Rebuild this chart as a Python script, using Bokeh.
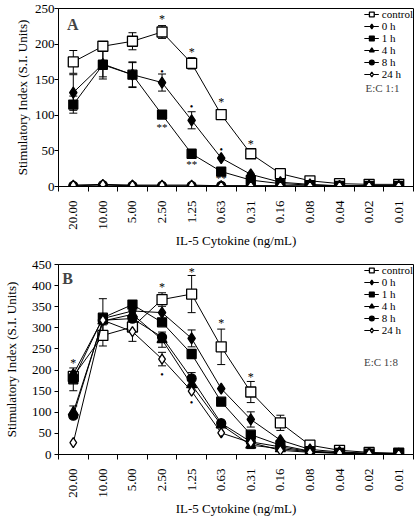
import math
from bokeh.plotting import figure
from bokeh.models import (FixedTicker, Whisker, TeeHead, ColumnDataSource,
                          Legend, LegendItem, Label)
from bokeh.layouts import column
from bokeh.core.properties import value
from bokeh.embed import file_html
from bokeh.resources import INLINE

# ---------------- data ----------------
conc_labels = ["20.00", "10.00", "5.00", "2.50", "1.25", "0.63",
               "0.31", "0.16", "0.08", "0.04", "0.02", "0.01"]
series_names = ["control", "0 h", "1 h", "4 h", "8 h", "24 h"]

# Panel A (E:C 1:1)
yticks_A = [0, 50, 100, 150, 200, 250]
control_A = [175, 197, 204, 217, 173, 101, 46, 18, 8, 4, 3, 3]
h0_A = [132, 172, 157, 146, 93, 40, 17, 6, 3, 1, 1, 1]
h1_A = [115, 171, 157, 101, 46, 21, 9, 4, 2, 1, 1, 1]
h4_A = [0, 0, 1, 0, 0, 0, 0, 0, 0, 0, 0, 0]
h8_A = [1, 2, 1, 1, 1, 1, 1, 1, 0, 0, 0, 0]
h24_A = [2, 3, 2, 2, 2, 1, 1, 1, 1, 1, 1, 1]
err_control_A = [16, 6, 12, 9, 8, 0, 0, 0, 0, 0, 0, 0]
err_h0_A = [25, 18, 18, 12, 12, 0, 0, 0, 0, 0, 0, 0]
err_h1_A = [12, 20, 17, 5, 0, 0, 0, 0, 0, 0, 0, 0]
stars_A_idx = [3, 4, 5, 6]
stars_A_y = [235, 189, 118, 59]
dots_A_idx = [3, 4, 5]
dots_A_y = [162, 112, 52]
dstars_A_idx = [3, 4, 5]
dstars_A_y = [84, 31, 12]

# Panel B (E:C 1:8)
yticks_B = [0, 50, 100, 150, 200, 250, 300, 350, 400, 450]
control_B = [185, 282, 302, 367, 380, 255, 148, 75, 22, 10, 5, 3]
h0_B = [190, 322, 340, 336, 275, 156, 83, 34, 12, 6, 3, 2]
h1_B = [178, 324, 355, 313, 238, 125, 47, 22, 8, 4, 2, 1]
h4_B = [100, 316, 332, 272, 165, 70, 22, 14, 6, 3, 2, 1]
h8_B = [92, 318, 322, 278, 180, 74, 30, 18, 7, 4, 2, 1]
h24_B = [28, 318, 291, 226, 150, 51, 28, 10, 5, 3, 2, 1]
err_control_B = [0, 25, 0, 16, 44, 42, 25, 18, 4, 0, 0, 0]
err_h0_B = [0, 0, 0, 0, 20, 0, 18, 0, 0, 0, 0, 0]
err_h1_B = [27, 45, 0, 0, 0, 0, 0, 0, 0, 0, 0, 0]
err_h4_B = [15, 0, 0, 18, 0, 0, 8, 0, 0, 0, 0, 0]
err_h8_B = [0, 0, 0, 0, 14, 0, 0, 0, 0, 0, 0, 0]
err_h24_B = [0, 0, 23, 16, 0, 0, 0, 0, 0, 0, 0, 0]
stars_B_idx = [0, 3, 4, 5, 6]
stars_B_y = [217, 397, 433, 311, 184]
dots_B_idx = [3, 4, 5]
dots_B_y = [190, 122, 42]

# ---------------- styling ----------------
FONT = "Liberation Serif"
markers = ["square", "diamond", "square", "triangle", "circle", "diamond"]
fills = ["white", "black", "black", "black", "black", "white"]
msizes = [10, 11, 9, 10, 9, 10]


def make_panel(letter, ec_text, yticks, ymax, series, errors, stars, dots,
               dstars, height, border_left, border_top, title_standoff,
               label_standoff, ec_pos, letter_pos):
    p = figure(width=415, height=height, x_range=(-0.5, 11.5),
               y_range=(0, ymax), output_backend="svg",
               toolbar_location=None, min_border_left=border_left,
               min_border_right=2, min_border_top=border_top,
               min_border_bottom=0, background_fill_color="white",
               border_fill_color="white")
    p.outline_line_color = "black"
    p.outline_line_width = 1
    p.xgrid.visible = False
    p.ygrid.visible = False

    xs = list(range(len(conc_labels)))
    # error bars
    for vals, err in zip(series, errors):
        if err is None:
            continue
        bx = [x for x, e in zip(xs, err) if e > 0]
        up = [v + e for v, e in zip(vals, err) if e > 0]
        lo = [v - e for v, e in zip(vals, err) if e > 0]
        src = ColumnDataSource(dict(x=bx, upper=up, lower=lo))
        w = Whisker(source=src, base="x", upper="upper", lower="lower",
                    dimension="height", line_color="black", line_width=1,
                    upper_head=TeeHead(size=8, line_color="black", line_width=1),
                    lower_head=TeeHead(size=8, line_color="black", line_width=1))
        p.add_layout(w)

    items = []
    for name, vals, mk, fc, ms in zip(series_names, series, markers, fills, msizes):
        ln = p.line(xs, vals, line_color="black", line_width=1)
        sc = p.scatter(xs, vals, marker=mk, size=ms, fill_color=fc,
                       line_color="black", line_width=1.3)
        items.append(LegendItem(label=name, renderers=[ln, sc]))

    # significance marks
    p.text(stars[0], stars[1], text=["*"] * len(stars[0]),
           text_align="center", text_baseline="middle",
           text_font=value(FONT), text_font_size="12px", text_color="black")
    p.text(dots[0], dots[1], text=["\u2022"] * len(dots[0]),
           text_align="center", text_baseline="middle",
           text_font=value(FONT), text_font_size="10px", text_color="black")
    if dstars is not None:
        p.text(dstars[0], dstars[1], text=["**"] * len(dstars[0]),
               text_align="center", text_baseline="middle",
               text_font=value(FONT), text_font_size="11px", text_color="black")

    leg = Legend(items=items, location="top_right", margin=0, padding=3,
                 spacing=0, glyph_width=15, glyph_height=12, label_height=10,
                 label_standoff=3, border_line_color=None,
                 background_fill_alpha=0, label_text_font=FONT,
                 label_text_font_size="11px", label_text_color="black")
    p.add_layout(leg)

    p.add_layout(Label(x=ec_pos[0], y=ec_pos[1], text=ec_text,
                       text_font=FONT, text_font_size="11px",
                       text_align="center", text_baseline="middle"))
    p.add_layout(Label(x=letter_pos[0], y=letter_pos[1], text=letter,
                       text_font=FONT, text_font_size="16px",
                       text_font_style="bold", text_align="left",
                       text_baseline="top"))

    xa = p.xaxis[0]
    xa.ticker = FixedTicker(ticks=xs, minor_ticks=[x - 0.5 for x in range(13)])
    xa.major_label_overrides = {i: lab for i, lab in enumerate(conc_labels)}
    xa.major_label_orientation = math.pi / 2
    xa.major_tick_out = 0
    xa.major_tick_in = 0
    xa.minor_tick_out = 5
    xa.minor_tick_in = 0
    xa.minor_tick_line_color = "black"
    xa.major_label_standoff = 9
    xa.major_label_text_font = FONT
    xa.major_label_text_font_size = "13px"
    xa.major_label_text_color = "black"
    xa.axis_label = "IL-5 Cytokine (ng/mL)"
    xa.axis_label_text_font = FONT
    xa.axis_label_text_font_size = "13px"
    xa.axis_label_text_font_style = "normal"
    xa.axis_label_text_color = "black"
    xa.axis_label_standoff = 0
    xa.axis_line_color = "black"

    ya = p.yaxis[0]
    ya.ticker = FixedTicker(ticks=yticks)
    ya.minor_tick_line_color = None
    ya.major_tick_out = 4
    ya.major_tick_in = 0
    ya.major_label_standoff = label_standoff
    ya.major_label_text_font = FONT
    ya.major_label_text_font_size = "13px"
    ya.major_label_text_color = "black"
    ya.axis_label = "Stimulatory Index (S.I. Units)"
    ya.axis_label_text_font = FONT
    ya.axis_label_text_font_size = "13px"
    ya.axis_label_text_font_style = "normal"
    ya.axis_label_text_color = "black"
    ya.axis_label_standoff = title_standoff
    ya.axis_line_color = "black"
    return p


pA = make_panel(
    "A", "E:C 1:1", yticks_A, 250,
    [control_A, h0_A, h1_A, h4_A, h8_A, h24_A],
    [err_control_A, err_h0_A, err_h1_A, None, None, None],
    (stars_A_idx, stars_A_y), (dots_A_idx, dots_A_y),
    (dstars_A_idx, dstars_A_y),
    height=250, border_left=43, border_top=8, title_standoff=2,
    label_standoff=0, ec_pos=(10.45, 138), letter_pos=(-0.21, 240))

pB = make_panel(
    "B", "E:C 1:8", yticks_B, 450,
    [control_B, h0_B, h1_B, h4_B, h8_B, h24_B],
    [err_control_B, err_h0_B, err_h1_B, err_h4_B, err_h8_B, err_h24_B],
    (stars_B_idx, stars_B_y), (dots_B_idx, dots_B_y), None,
    height=268, border_left=56, border_top=14, title_standoff=10,
    label_standoff=3, ec_pos=(10.4, 220), letter_pos=(-0.37, 436))

layout = column(pA, pB, spacing=0)
open("out.html", "w").write(file_html(layout, INLINE))
